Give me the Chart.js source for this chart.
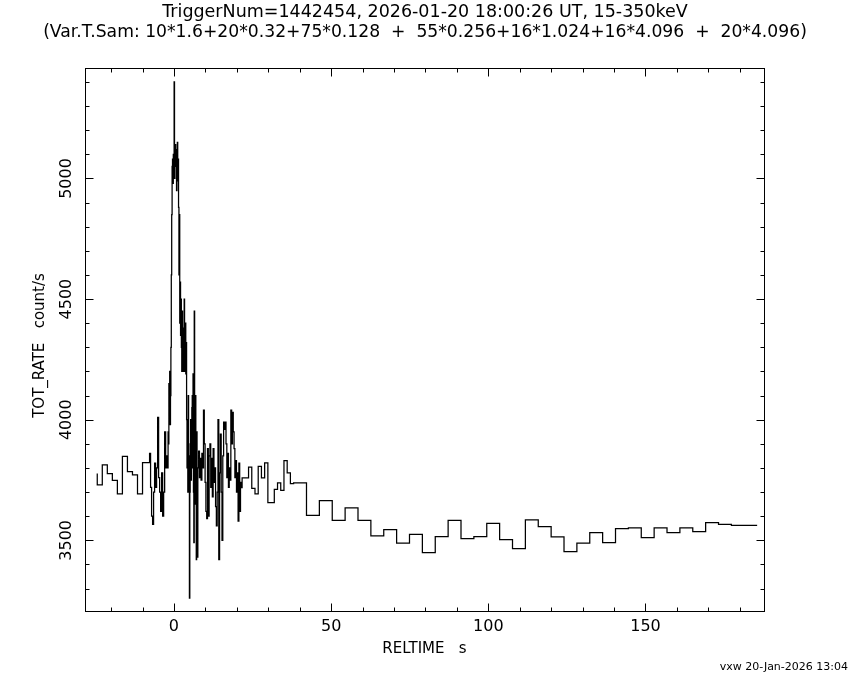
<!DOCTYPE html>
<html>
<head>
<meta charset="utf-8">
<title>TriggerNum=1442454 light curve</title>
<script src="https://cdn.jsdelivr.net/npm/chart.js@4.4.1/dist/chart.umd.min.js"></script>
<style>
    html, body { margin: 0; padding: 0; background: #fff; }
    #wrap { width: 850px; height: 680px; }
</style>
</head>
<body>
<div id="wrap"><canvas id="lc" width="850" height="680"></canvas></div>
<script>
// Time of the first bin edge (s, relative to trigger)
const T_START = -24.4;

// Variable time sampling: number of bins and bin width per segment
const segCounts = [10, 20, 75, 55, 16, 16, 20];
const segWidths = [1.6, 0.32, 0.128, 0.256, 1.024, 4.096, 4.096];

// TOT_RATE (count/s) per segment
const rate1600 = [3777, 3730, 3813, 3777, 3748, 3693, 3848, 3785, 3771, 3693];

const rate320 = [3822, 3822, 3822, 3860, 3720, 3600, 3566, 3700, 3820, 3720,
                 3800, 4010, 3760, 3700, 3620, 3780, 3600, 3700, 3950, 3800];

const rate128 = [3850, 3800, 3950, 3900,
                 4150, 4000, 4200, 3980, 4100,
                 4300, 4600, 4850,
                 5050, 5080, 4980, 5100, 5060,
                 5400, 5000,
                 5100, 5140, 5050, 5120, 4950, 5100, 5150, 4990, 5080,
                 4880, 4600, 4850, 4400, 4570,
                 4350, 4500, 4300, 4200, 4450, 4250, 4380, 4200, 4300, 4500, 4280, 4200, 4400, 4190, 4320,
                 4000, 3800, 3950, 3700, 4100, 3850, 3750,
                 3260, 3700,
                 3900, 4000, 3750, 3850, 4050,
                 4100, 3800, 4190, 3700, 3490, 4450, 3900, 3650, 4100, 3800, 3420, 3950, 3750];

const rate256 = [3430, 3800, 3870, 3760, 3840, 3750, 3860, 3800, 4040, 3900,
                 3740, 3620, 3590, 3880, 3600, 3850, 3900, 3720, 3840, 3680,
                 3880, 3740, 3800, 3640, 3560, 3700, 4000, 3420, 3780, 3940,
                 3700, 3500, 3850, 3990, 3960, 3990, 3900, 3760, 3860, 3720,
                 3800, 3750, 4040, 3900, 4030, 3950, 3880, 3760, 3830, 3700,
                 3780, 3580, 3820, 3620, 3740];

const rate1024 = [3718, 3759, 3759, 3803, 3715, 3693, 3807, 3759,
                  3821, 3656, 3656, 3711, 3738, 3707, 3830, 3780];

const rate4096a = [3735, 3738, 3603, 3665, 3583, 3635, 3583, 3518,
                   3544, 3488, 3525, 3449, 3515, 3583, 3507, 3515];

const rate4096b = [3570, 3503, 3466, 3585, 3557, 3514, 3453, 3488, 3532, 3490,
                   3548, 3552, 3511, 3552, 3532, 3552, 3536, 3573, 3566, 3562];

// Axis ranges and tick labels
const X_MIN = -28.3, X_MAX = 187.7;
const Y_MIN = 3207, Y_MAX = 5458;
const xTickLabels = [0, 50, 100, 150];
const yTickLabels = [3500, 4000, 4500, 5000];
const X_MINOR = 10, Y_MINOR = 100;

const TITLE_1 = 'TriggerNum=1442454, 2026-01-20 18:00:26 UT, 15-350keV';
const TITLE_2 = '(Var.T.Sam: 10*1.6+20*0.32+75*0.128  +  55*0.256+16*1.024+16*4.096  +  20*4.096)';
const X_TITLE = 'RELTIME   s';
const Y_TITLE = 'TOT_RATE   count/s';
const FOOTER = 'vxw 20-Jan-2026 13:04';

const FONT = '"DejaVu Sans", sans-serif';

/**
 * Histogram points: one point at each bin start, plus the closing edge
 */
function buildSteps() {
    const segments = [rate1600, rate320, rate128, rate256, rate1024, rate4096a, rate4096b];
    const pts = [];
    let t = T_START;
    let last = null;
    segments.forEach((vals, s) => {
        const dt = segWidths[s];
        for (let i = 0; i < segCounts[s]; i++) {
            last = vals[i];
            pts.push({ x: t, y: last });
            t += dt;
        }
    });
    pts.push({ x: t, y: last });
    return pts;
}

/**
 * Frame, inward ticks on all sides, labels and titles (PGPLOT look)
 */
const framePlugin = {
    id: 'pgframe',
    afterDraw(chart) {
        const ctx = chart.ctx;
        const a = chart.chartArea;
        const xs = chart.scales.x;
        const ys = chart.scales.y;
        const L = Math.round(a.left) + 0.5, R = Math.round(a.right) + 0.5;
        const T = Math.round(a.top) + 0.5, B = Math.round(a.bottom) + 0.5;

        ctx.save();
        ctx.strokeStyle = '#000';
        ctx.lineWidth = 1;
        ctx.strokeRect(L, T, R - L, B - T);

        ctx.beginPath();
        // x ticks
        for (let v = Math.ceil(X_MIN / X_MINOR) * X_MINOR; v <= X_MAX; v += X_MINOR) {
            const px = Math.round(xs.getPixelForValue(v)) + 0.5;
            const len = (v % 50 === 0) ? 8 : 4;
            ctx.moveTo(px, B); ctx.lineTo(px, B - len);
            ctx.moveTo(px, T); ctx.lineTo(px, T + len);
        }
        // y ticks
        for (let v = Math.ceil(Y_MIN / Y_MINOR) * Y_MINOR; v <= Y_MAX; v += Y_MINOR) {
            const py = Math.round(ys.getPixelForValue(v)) + 0.5;
            const len = (v % 500 === 0) ? 8 : 4;
            ctx.moveTo(L, py); ctx.lineTo(L + len, py);
            ctx.moveTo(R, py); ctx.lineTo(R - len, py);
        }
        ctx.stroke();

        ctx.fillStyle = '#000';
        ctx.textAlign = 'center';
        ctx.textBaseline = 'middle';

        // tick labels
        ctx.font = '16px ' + FONT;
        xTickLabels.forEach(v => {
            ctx.fillText(String(v), xs.getPixelForValue(v), a.bottom + 16);
        });
        yTickLabels.forEach(v => {
            ctx.save();
            ctx.translate(a.left - 18, ys.getPixelForValue(v));
            ctx.rotate(-Math.PI / 2);
            ctx.fillText(String(v), 0, 0);
            ctx.restore();
        });

        // axis titles
        ctx.font = '15px ' + FONT;
        ctx.fillText(X_TITLE, (a.left + a.right) / 2, a.bottom + 38);
        ctx.save();
        ctx.translate(a.left - 45, (a.top + a.bottom) / 2 + 6);
        ctx.rotate(-Math.PI / 2);
        ctx.fillText(Y_TITLE, 0, 0);
        ctx.restore();

        // titles
        ctx.font = '17.5px ' + FONT;
        ctx.fillText(TITLE_1, 425, 12);
        ctx.font = '17.2px ' + FONT;
        ctx.fillText(TITLE_2, 425, 33);

        // footer
        ctx.font = '11px ' + FONT;
        ctx.textAlign = 'right';
        ctx.fillText(FOOTER, 848, 667);
        ctx.restore();
    }
};

document.addEventListener('DOMContentLoaded', function() {
    new Chart(document.getElementById('lc'), {
        type: 'line',
        data: {
            datasets: [{
                data: buildSteps(),
                stepped: 'after',
                borderColor: '#000',
                borderWidth: 1.25,
                pointRadius: 0,
                fill: false,
                tension: 0
            }]
        },
        options: {
            responsive: false,
            animation: false,
            devicePixelRatio: 1,
            layout: { padding: { left: 85, right: 86, top: 68, bottom: 69 } },
            plugins: {
                legend: { display: false },
                tooltip: { enabled: false },
                title: { display: false }
            },
            scales: {
                x: { type: 'linear', min: X_MIN, max: X_MAX, display: false },
                y: { type: 'linear', min: Y_MIN, max: Y_MAX, display: false }
            }
        },
        plugins: [framePlugin]
    });
});
</script>
</body>
</html>
